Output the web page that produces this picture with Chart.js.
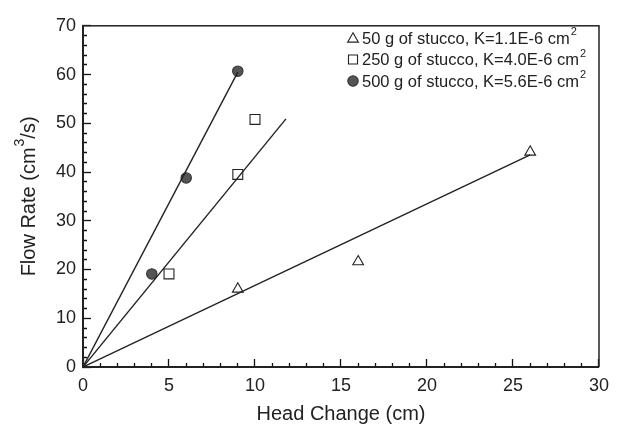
<!DOCTYPE html>
<html>
<head>
<meta charset="utf-8">
<script src="https://cdn.jsdelivr.net/npm/chart.js@4/dist/chart.umd.min.js"></script>
<style>
    html, body { margin: 0; padding: 0; background: #fff; }
    #board { width: 625px; height: 426px; }
</style>
</head>
<body>
<div id="board"><canvas id="chart" width="625" height="426"></canvas></div>
<script>
// measured points
const head50 = [9, 16, 26];
const flow50 = [16, 21.6, 44.1];
const head250 = [5, 9, 10];
const flow250 = [19.1, 39.5, 50.8];
const head500 = [4, 6, 9];
const flow500 = [19.1, 38.8, 60.7];

// fitted lines start at the origin and end here
const fitEndHead = [26, 11.8, 9];
const fitEndFlow = [43.5, 50.9, 60.5];

// legend labels, the trailing part is drawn as superscript
const seriesLabels = [
    "50 g of stucco, K=1.1E-6 cm",
    "250 g of stucco, K=4.0E-6 cm",
    "500 g of stucco, K=5.6E-6 cm"
];
const seriesSup = ["2", "2", "2"];

const xTitle = "Head Change (cm)";
const yTitle = ["Flow Rate (cm", "3", "/s)"];

const xMin = 0, xMax = 30, xMajor = 5, xMinor = 1;
const yMin = 0, yMax = 70, yMajor = 10, yMinor = 2;

const ink = "#222";
const fontFamily = "'Liberation Sans', Arial, sans-serif";

function toPoints(xs, ys) {
    return xs.map((v, i) => ({ x: v, y: ys[i] }));
}

const markers = [
    { style: "triangle", radius: 6.2, fill: "rgba(0,0,0,0)", border: ink },
    { style: "rect", radius: 7, fill: "rgba(0,0,0,0)", border: ink },
    { style: "circle", radius: 5.2, fill: "#555", border: "#333" }
];

const pointSets = [toPoints(head50, flow50), toPoints(head250, flow250), toPoints(head500, flow500)];

const datasets = [];
fitEndHead.forEach((hx, i) => {
    datasets.push({
        type: "line",
        label: "",
        data: [{ x: 0, y: 0 }, { x: hx, y: fitEndFlow[i] }],
        borderColor: ink,
        borderWidth: 1.4,
        pointRadius: 0,
        fill: false,
        isFit: true
    });
});
pointSets.forEach((pts, i) => {
    const m = markers[i];
    datasets.push({
        type: "scatter",
        label: seriesLabels[i],
        sup: seriesSup[i],
        data: pts,
        pointStyle: m.style,
        pointRadius: m.radius,
        pointBackgroundColor: m.fill,
        pointBorderColor: m.border,
        pointBorderWidth: 1.1,
        showLine: false
    });
});

function isMajor(ctx, step) {
    return ctx.tick && Math.abs(ctx.tick.value % step) < 1e-9;
}

// top and right frame lines
const frame = {
    id: "frame",
    afterDraw(chart) {
        const ctx = chart.ctx;
        const a = chart.chartArea;
        ctx.save();
        ctx.fillStyle = ink;
        ctx.fillRect(a.left, a.top - 0.75, a.right - a.left, 1.5);
        ctx.fillRect(a.right - 0.75, a.top - 0.75, 1.5, a.bottom - a.top + 0.75);
        ctx.restore();
    }
};

function textWithSup(ctx, parts, x, y, size) {
    // parts: [base, sup, rest]
    ctx.font = size + "px " + fontFamily;
    ctx.fillText(parts[0], x, y);
    let cx = x + ctx.measureText(parts[0]).width;
    ctx.font = Math.round(size * 0.68) + "px " + fontFamily;
    ctx.fillText(parts[1], cx + 1, y - size * 0.42);
    cx += ctx.measureText(parts[1]).width + 1;
    if (parts[2]) {
        ctx.font = size + "px " + fontFamily;
        ctx.fillText(parts[2], cx, y);
    }
}

function widthWithSup(ctx, parts, size) {
    ctx.font = size + "px " + fontFamily;
    let w = ctx.measureText(parts[0]).width + (parts[2] ? ctx.measureText(parts[2]).width : 0);
    ctx.font = Math.round(size * 0.68) + "px " + fontFamily;
    return w + ctx.measureText(parts[1]).width + 1;
}

// legend inside the plot, top right, plus the rotated y title
const innerLegend = {
    id: "innerLegend",
    afterDraw(chart) {
        const { ctx, chartArea: a } = chart;
        ctx.save();
        ctx.textBaseline = "middle";
        const x0 = 353, y0 = 38, rowGap = 21.5;
        let row = 0;
        chart.data.datasets.forEach((ds) => {
            if (ds.isFit) return;
            const cy = y0 + row * rowGap;
            ctx.fillStyle = ds.pointBackgroundColor;
            ctx.strokeStyle = ds.pointBorderColor;
            ctx.lineWidth = ds.pointBorderWidth;
            Chart.helpers.drawPoint(ctx, {
                pointStyle: ds.pointStyle,
                radius: ds.pointStyle === "rect" ? 6.4 : ds.pointRadius,
                borderWidth: ds.pointBorderWidth,
                rotation: 0
            }, x0, cy + (ds.pointStyle === "triangle" ? 1 : 0));
            ctx.fillStyle = ink;
            textWithSup(ctx, [ds.label, ds.sup, ""], x0 + 9, cy + 1, 16.5);
            row++;
        });

        const size = 20;
        ctx.fillStyle = ink;
        ctx.textAlign = "left";
        const w = widthWithSup(ctx, yTitle, size);
        ctx.translate(29, (a.top + a.bottom) / 2);
        ctx.rotate(-Math.PI / 2);
        textWithSup(ctx, yTitle, -w / 2, 0, size);
        ctx.restore();
    }
};

const config = {
    type: "scatter",
    data: { datasets: datasets },
    options: {
        responsive: false,
        animation: false,
        layout: { padding: { top: 15, right: 18, left: 0, bottom: 0 } },
        scales: {
            x: {
                type: "linear",
                min: xMin,
                max: xMax,
                afterFit(scale) { scale.height = 59; },
                border: { display: true, color: ink, width: 2 },
                grid: {
                    display: true,
                    drawOnChartArea: false,
                    drawTicks: true,
                    tickLength: -8,
                    tickWidth: 1.3,
                    tickColor: "#111",
                    // minor ticks keep only the part next to the axis
                    tickBorderDash: (ctx) => isMajor(ctx, xMajor) ? [] : [5, 100]
                },
                ticks: {
                    stepSize: xMinor,
                    autoSkip: false,
                    maxRotation: 0,
                    color: ink,
                    padding: 16,
                    font: { family: fontFamily, size: 18 },
                    callback: (v) => (Math.abs(v % xMajor) < 1e-9 ? v : "")
                },
                title: {
                    display: true,
                    text: xTitle,
                    color: ink,
                    padding: { top: 5, bottom: 0 },
                    font: { family: fontFamily, size: 20 }
                }
            },
            y: {
                type: "linear",
                min: yMin,
                max: yMax,
                afterFit(scale) { scale.width = 83; },
                border: { display: true, color: ink, width: 2 },
                grid: {
                    display: true,
                    drawOnChartArea: false,
                    drawTicks: true,
                    tickLength: -8,
                    tickWidth: 1.3,
                    tickColor: "#111",
                    // y ticks run from inside towards the axis
                    tickBorderDash: (ctx) => isMajor(ctx, yMajor) ? [] : [0, 4, 6, 100]
                },
                ticks: {
                    stepSize: yMinor,
                    autoSkip: false,
                    color: ink,
                    padding: 15,
                    font: { family: fontFamily, size: 18 },
                    callback: (v) => (Math.abs(v % yMajor) < 1e-9 ? v : "")
                }
            }
        },
        plugins: {
            legend: { display: false },
            tooltip: { enabled: false }
        }
    },
    plugins: [frame, innerLegend]
};

new Chart(document.getElementById("chart"), config);
</script>
</body>
</html>
